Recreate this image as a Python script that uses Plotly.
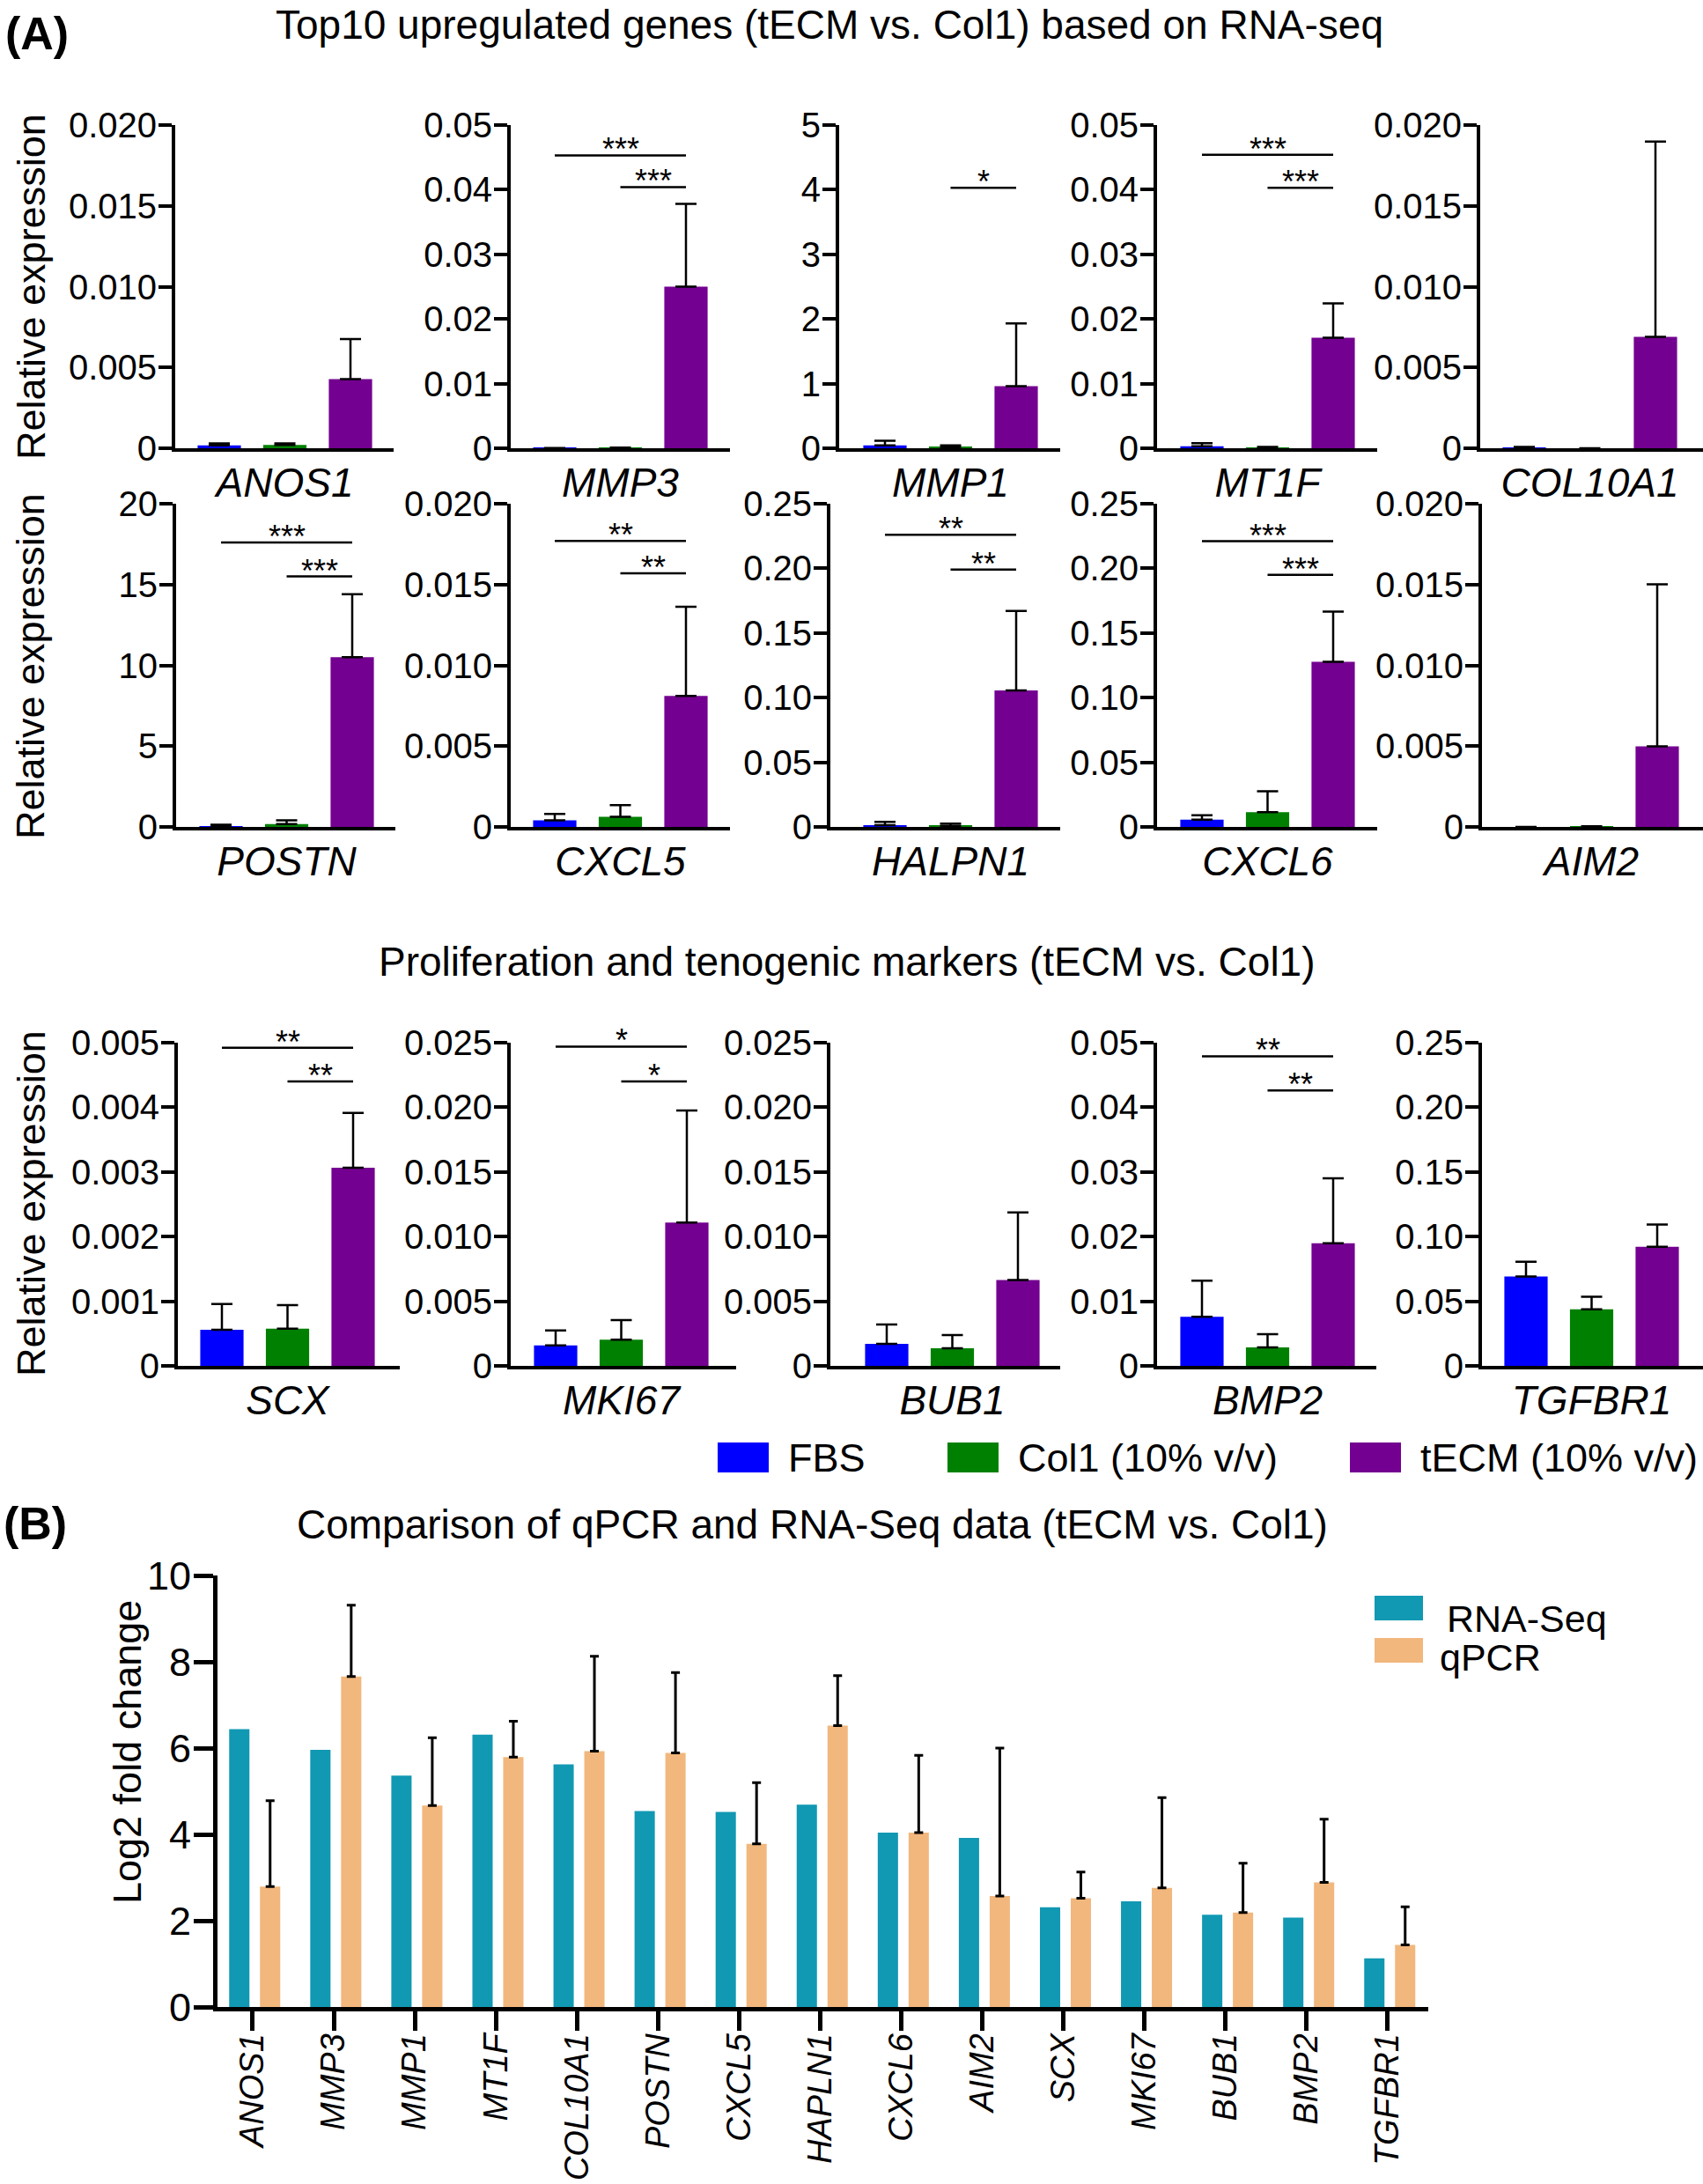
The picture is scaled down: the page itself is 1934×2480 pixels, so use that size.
import plotly.graph_objects as go

W, H = 1934, 2480
FONT = "Liberation Sans, Arial, sans-serif"

# ---- panel A: relative expression (mean and mean+SD) ----
genes_a = ["ANOS1", "MMP3", "MMP1", "MT1F", "COL10A1",
           "POSTN", "CXCL5", "HALPN1", "CXCL6", "AIM2",
           "SCX", "MKI67", "BUB1", "BMP2", "TGFBR1"]
fbs_mean = [0.00018, 0.00002, 0.045, 0.0003, 0.00002,
            0.05, 0.00041, 0.0013, 0.0056, 0.0,
            0.000559, 0.00159, 0.0017, 0.00758, 0.0692]
fbs_top = [0.0003, 0.00003, 0.115, 0.0008, 0.00008,
           0.14, 0.00081, 0.004, 0.009, 0.0,
           0.000956, 0.00275, 0.00321, 0.01319, 0.0806]
col1_mean = [0.0002, 0.00005, 0.015, 0.0001, 0.0,
             0.18, 0.00063, 0.0007, 0.0114, 0.00002,
             0.000574, 0.00202, 0.00137, 0.00286, 0.0437]
col1_top = [0.0003, 0.0001, 0.045, 0.0002, 0.0,
            0.41, 0.00135, 0.0025, 0.0276, 0.00004,
            0.00094, 0.00354, 0.00239, 0.00489, 0.0534]
tecm_mean = [0.00428, 0.0250, 0.96, 0.0171, 0.00689,
             10.5, 0.0081, 0.1056, 0.1278, 0.00499,
             0.003064, 0.01108, 0.00665, 0.01896, 0.0922]
tecm_top = [0.00676, 0.0378, 1.93, 0.0224, 0.01898,
            14.4, 0.01362, 0.167, 0.1666, 0.01501,
            0.003912, 0.01975, 0.01187, 0.02901, 0.1094]

y_max_a = [0.02, 0.05, 5, 0.05, 0.02,
           20, 0.02, 0.25, 0.25, 0.02,
           0.005, 0.025, 0.025, 0.05, 0.25]
t020 = ["0", "0.005", "0.010", "0.015", "0.020"]
t05 = ["0", "0.01", "0.02", "0.03", "0.04", "0.05"]
t25 = ["0", "0.05", "0.10", "0.15", "0.20", "0.25"]
t025 = ["0", "0.005", "0.010", "0.015", "0.020", "0.025"]
y_ticks_a = [t020, t05, ["0", "1", "2", "3", "4", "5"], t05, t020,
             ["0", "5", "10", "15", "20"], t020, t25, t25, t020,
             ["0", "0.001", "0.002", "0.003", "0.004", "0.005"], t025, t025, t05, t25]

# significance bars: (FBS vs tECM) and (Col1 vs tECM)
sig_genes = ["MMP3", "MMP1", "MT1F", "POSTN", "CXCL5", "HALPN1", "CXCL6", "SCX", "MKI67", "BMP2"]
sig_fbs_y = [0.0453, None, 0.0454, 17.6, 0.0177, 0.226, 0.221, 0.00492, 0.0247, 0.0479]
sig_col1_y = [0.0404, 4.03, 0.0403, 15.5, 0.0157, 0.199, 0.195, 0.0044, 0.0220, 0.0426]
sig_stars = ["***", "*", "***", "***", "**", "**", "***", "**", "*", "**"]

groups_a = ["FBS", "Col1 (10% v/v)", "tECM (10% v/v)"]
colors_a = ["#0000FF", "#008000", "#730090"]

# ---- panel B: log2 fold change ----
genes_b = ["ANOS1", "MMP3", "MMP1", "MT1F", "COL10A1", "POSTN", "CXCL5", "HAPLN1",
           "CXCL6", "AIM2", "SCX", "MKI67", "BUB1", "BMP2", "TGFBR1"]
rnaseq_fc = [6.44, 5.96, 5.36, 6.31, 5.62, 4.54, 4.52, 4.69,
             4.04, 3.92, 2.31, 2.45, 2.14, 2.07, 1.13]
qpcr_fc = [2.79, 7.66, 4.67, 5.79, 5.93, 5.89, 3.78, 6.52,
           4.04, 2.57, 2.52, 2.76, 2.19, 2.89, 1.44]
qpcr_top = [4.78, 9.31, 6.24, 6.62, 8.13, 7.75, 5.20, 7.68,
            5.83, 6.00, 3.13, 4.85, 3.33, 4.35, 2.32]
teal, orange = "#1198B3", "#F2B77D"


def px(x):
    return x / W


def py(y):
    return 1 - y / H


# pixel geometry of the small panels: y-axis x, first bar centre, axis end
panel_x = [(199, 249, 447), (580, 630, 829), (953, 1005, 1204), (1314, 1365, 1564), (1681, 1731, 1934),
           (200, 251, 449), (580, 630, 829), (943, 1005, 1204), (1314, 1365, 1564), (1683, 1733, 1934),
           (202, 252, 454), (580, 631, 836), (943, 1007, 1204), (1314, 1365, 1563), (1683, 1733, 1934)]
rows_y = [(142, 509), (572, 939), (1184, 1551)]
STEP = 74.5

fig = go.Figure()
layout = dict(width=W, height=H, margin=dict(l=0, r=0, t=0, b=0, autoexpand=False),
              paper_bgcolor="white", plot_bgcolor="white",
              font=dict(family=FONT, color="black"), showlegend=False,
              barmode="overlay")
shapes, annotations = [], []

for i, g in enumerate(genes_a):
    n = i + 1
    xa, ya = ("x", "y") if n == 1 else (f"x{n}", f"y{n}")
    x0, c0, xe = panel_x[i]
    top, zero = rows_y[i // 5]
    means = [fbs_mean[i], col1_mean[i], tecm_mean[i]]
    tops = [fbs_top[i], col1_top[i], tecm_top[i]]
    fig.add_trace(go.Bar(
        x=[0, 1, 2], y=means, width=0.66, marker=dict(color=colors_a, line=dict(width=0)),
        error_y=dict(type="data", symmetric=False, array=[t - m for t, m in zip(tops, means)],
                     arrayminus=[0, 0, 0], color="black", thickness=2.5, width=12),
        xaxis=xa, yaxis=ya, hoverinfo="x+y"))
    ticks = y_ticks_a[i]
    layout["xaxis" if n == 1 else f"xaxis{n}"] = dict(
        domain=[px(x0), px(xe)], range=[(x0 - c0) / STEP, (xe - c0) / STEP], anchor=ya,
        showline=True, linecolor="black", linewidth=4, ticks="", showgrid=False, zeroline=False,
        automargin=False, tickvals=[1], ticktext=[f"<i>{g}</i>"], tickfont=dict(size=46),
        ticklabelstandoff=-4)
    layout["yaxis" if n == 1 else f"yaxis{n}"] = dict(
        domain=[py(zero), py(top)], range=[0, y_max_a[i]], anchor=xa,
        showline=True, linecolor="black", linewidth=4, ticks="outside", ticklen=15,
        tickwidth=4, tickcolor="black", showgrid=False, zeroline=False, automargin=False,
        tickvals=[y_max_a[i] * k / (len(ticks) - 1) for k in range(len(ticks))],
        ticktext=ticks, tickfont=dict(size=40), ticklabelstandoff=-6)

    if g in sig_genes:
        s = sig_genes.index(g)
        for y_val, x_start in ((sig_fbs_y[s], 0), (sig_col1_y[s], 1)):
            if y_val is None:
                continue
            shapes.append(dict(type="line", xref=xa, yref=ya, x0=x_start, x1=2,
                               y0=y_val, y1=y_val, line=dict(color="black", width=2.5)))
            annotations.append(dict(xref=xa, yref=ya, x=(x_start + 2) / 2, y=y_val,
                                    text=sig_stars[s], yanchor="bottom",
                                    yshift=-16, font=dict(size=36)))

# panel B
nb = len(genes_a) + 1
xb, yb = f"x{nb}", f"y{nb}"
fig.add_trace(go.Bar(x=list(range(len(genes_b))), y=rnaseq_fc, width=0.25, offset=-0.29,
                     marker=dict(color=teal, line=dict(width=0)), name="RNA-Seq",
                     xaxis=xb, yaxis=yb))
fig.add_trace(go.Bar(x=list(range(len(genes_b))), y=qpcr_fc, width=0.25, offset=0.09,
                     marker=dict(color=orange, line=dict(width=0)), name="qPCR",
                     error_y=dict(type="data", symmetric=False,
                                  array=[t - m for t, m in zip(qpcr_top, qpcr_fc)],
                                  arrayminus=[0] * len(qpcr_fc), color="black",
                                  thickness=3, width=5),
                     xaxis=xb, yaxis=yb))
layout[f"xaxis{nb}"] = dict(
    domain=[px(247), px(1622)], range=[-0.434, 14.5], anchor=yb,
    showline=True, linecolor="black", linewidth=5, ticks="outside", ticklen=22, tickwidth=5,
    tickcolor="black", showgrid=False, zeroline=False, automargin=False,
    tickvals=list(range(len(genes_b))), ticktext=[f"<i>{g}</i>" for g in genes_b],
    tickangle=-90, tickfont=dict(size=38), ticklabelstandoff=-12)
layout[f"yaxis{nb}"] = dict(
    domain=[py(2279), py(1789)], range=[0, 10], anchor=xb,
    showline=True, linecolor="black", linewidth=5, ticks="outside", ticklen=22, tickwidth=5,
    tickcolor="black", showgrid=False, zeroline=False, automargin=False,
    tickvals=[0, 2, 4, 6, 8, 10], tickfont=dict(size=45), ticklabelstandoff=-6)

# titles and labels
annotations += [
    dict(x=px(4), y=py(38), text="<b>(A)</b>", xanchor="left", font=dict(size=52)),
    dict(x=px(942), y=py(28), text="Top10 upregulated genes (tECM vs. Col1) based on RNA-seq",
         font=dict(size=46)),
    dict(x=px(962), y=py(1092), text="Proliferation and tenogenic markers (tECM vs. Col1)",
         font=dict(size=46)),
    dict(x=px(2), y=py(1730), text="<b>(B)</b>", xanchor="left", font=dict(size=52)),
    dict(x=px(922), y=py(1731), text="Comparison of qPCR and RNA-Seq data (tECM vs. Col1)",
         font=dict(size=46)),
    dict(x=px(145), y=py(1990), text="Log2 fold change", textangle=-90, font=dict(size=45)),
]
for yc in (326, 757, 1367):
    annotations.append(dict(x=px(35), y=py(yc), text="Relative expression", textangle=-90,
                            font=dict(size=45)))

# legend of panel A
for name, col, sx in zip(groups_a, colors_a, (815, 1076, 1533)):
    shapes.append(dict(type="rect", xref="paper", yref="paper", x0=px(sx), x1=px(sx + 58),
                       y0=py(1672), y1=py(1638), fillcolor=col, line=dict(width=0)))
    annotations.append(dict(x=px(sx + 78), y=py(1655), text=name, xanchor="left",
                            font=dict(size=45)))
# legend of panel B
for name, col, yc in (("RNA-Seq", teal, 1826), ("qPCR", orange, 1874)):
    shapes.append(dict(type="rect", xref="paper", yref="paper", x0=px(1561), x1=px(1616),
                       y0=py(yc + 14), y1=py(yc - 14), fillcolor=col, line=dict(width=0)))
annotations.append(dict(x=px(1641), y=py(1838), text="RNA-Seq", xanchor="left", font=dict(size=43)))
annotations.append(dict(x=px(1633), y=py(1882), text="qPCR", xanchor="left", font=dict(size=43)))

for a in annotations:
    a.setdefault("xref", "paper")
    a.setdefault("yref", "paper")
    a.setdefault("xanchor", "center")
    a.setdefault("yanchor", "middle")
    a.setdefault("showarrow", False)

layout["shapes"] = shapes
layout["annotations"] = annotations
fig.update_layout(**layout)

# the page body has a default 8px margin; drop it so the figure fills the window
fig.write_html("out.html", config={"displayModeBar": False},
               post_script="document.body.style.margin = '0';")
